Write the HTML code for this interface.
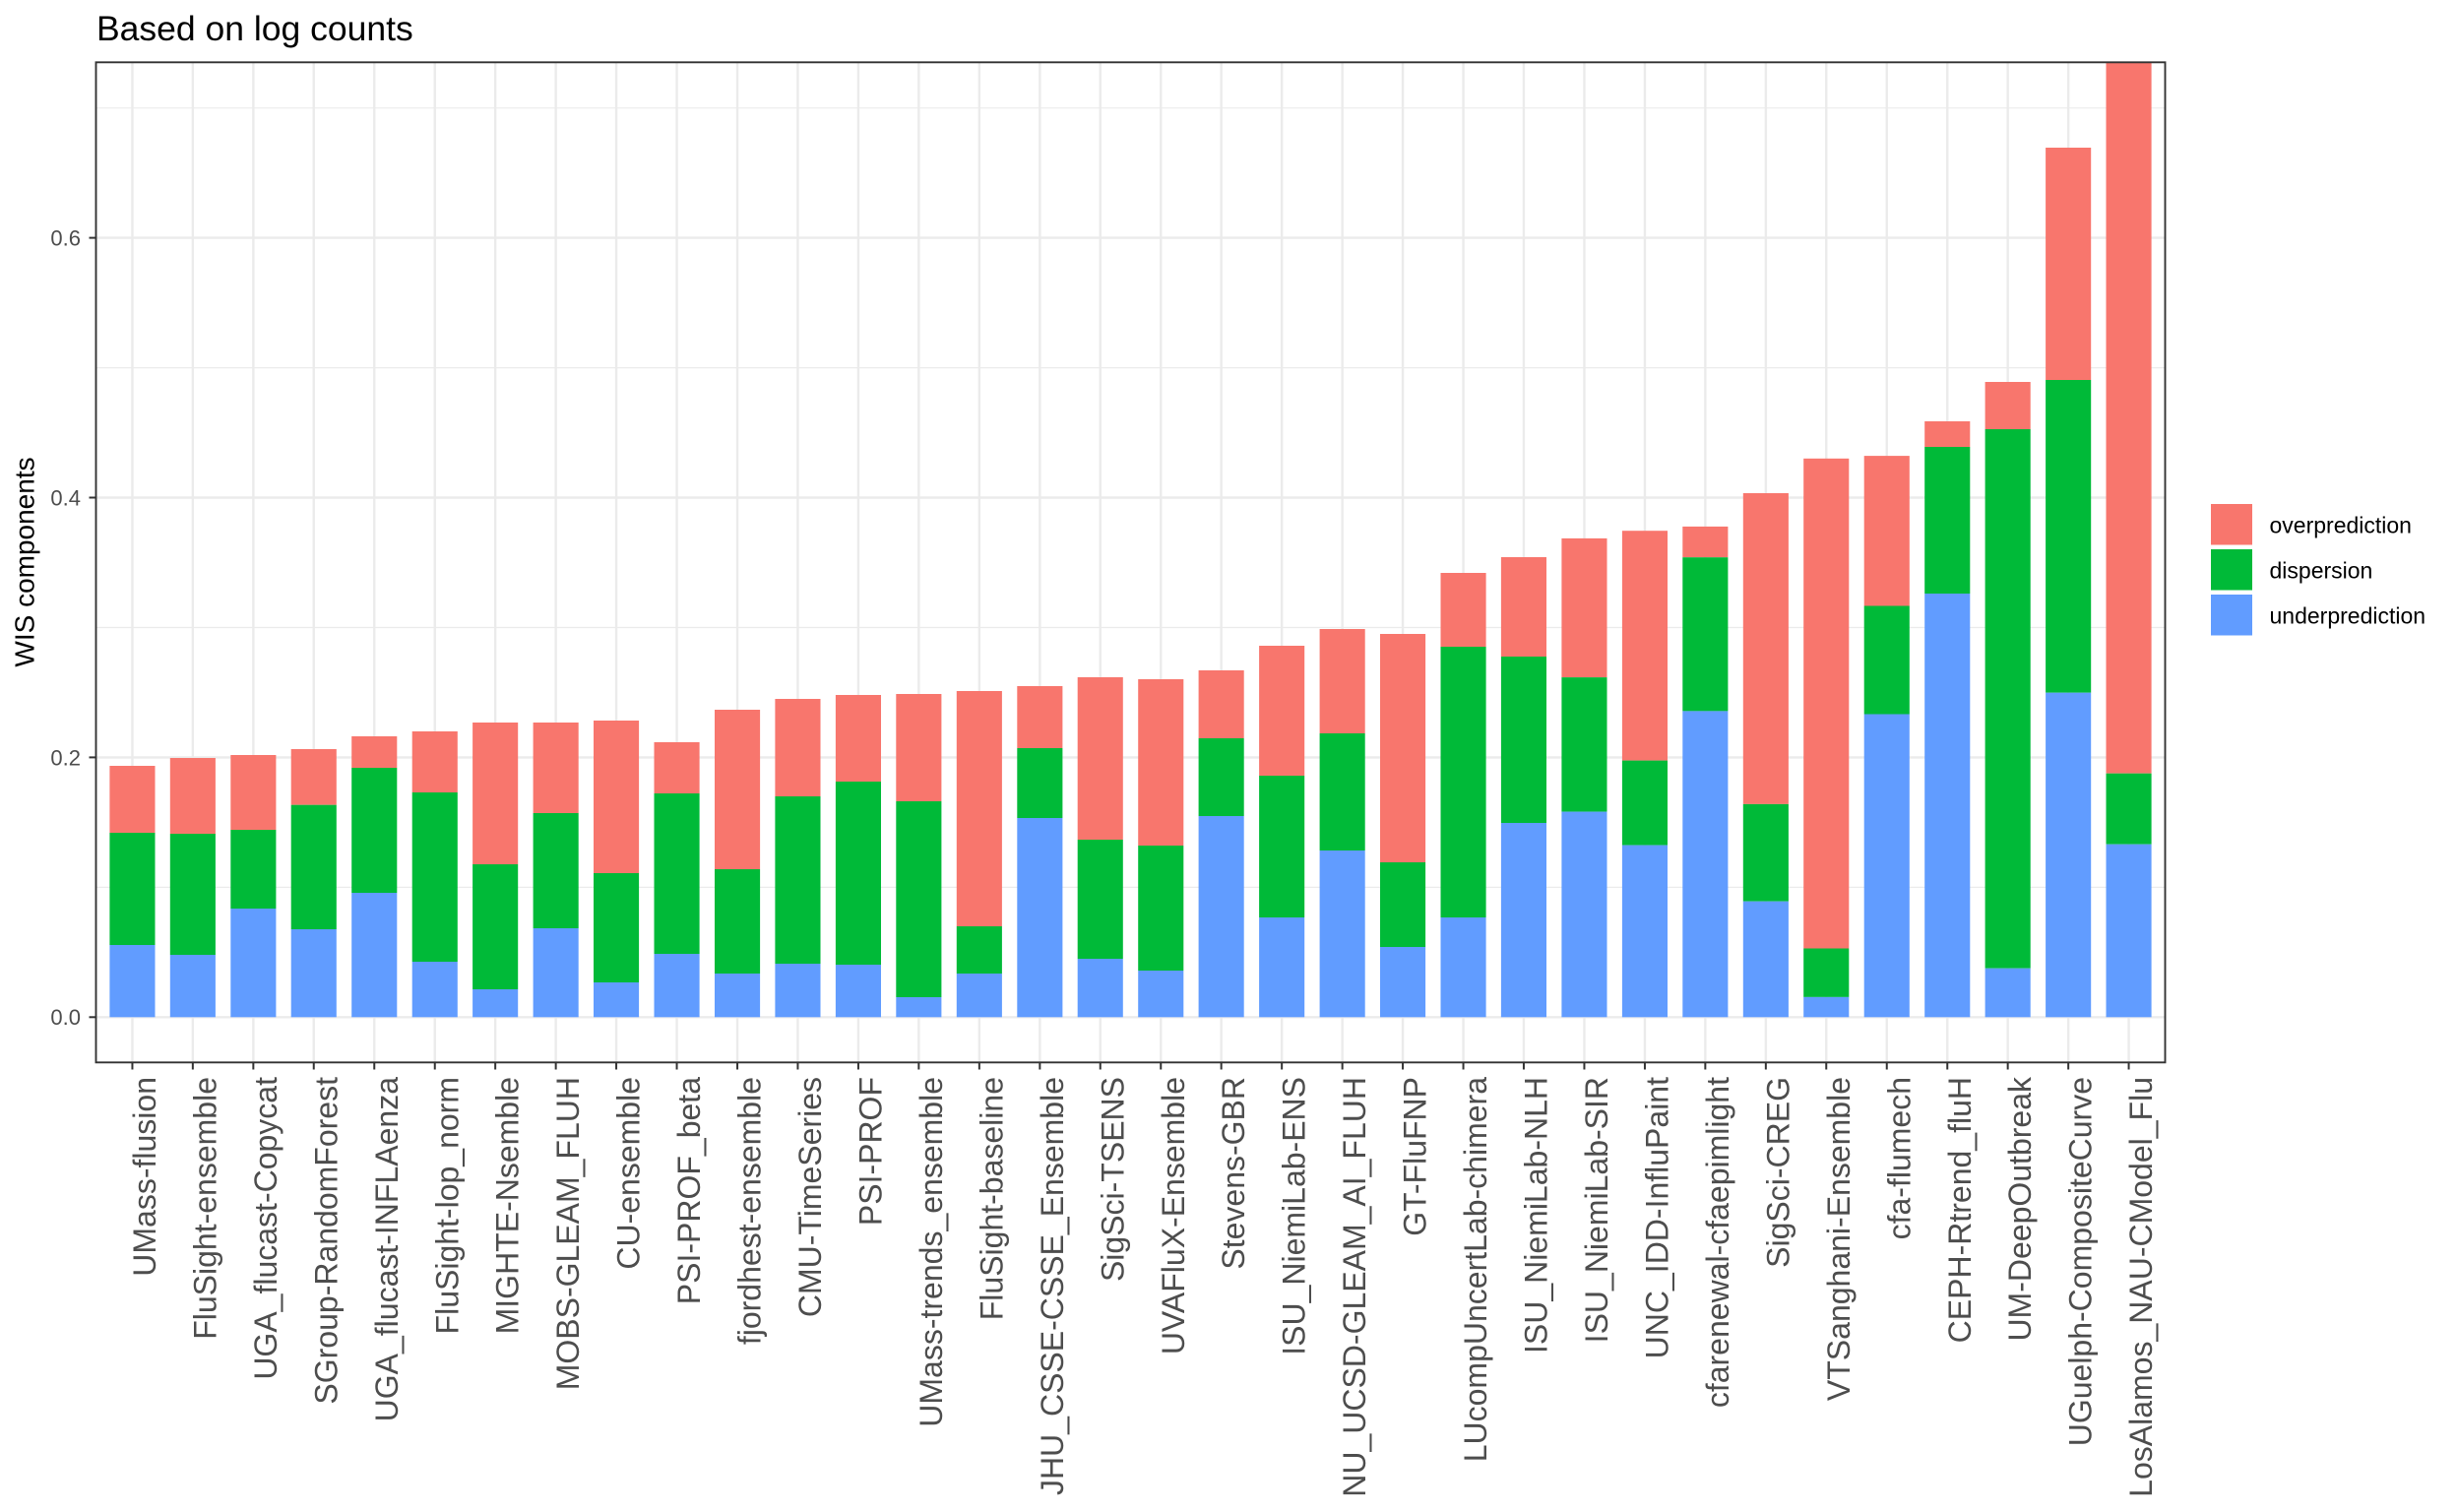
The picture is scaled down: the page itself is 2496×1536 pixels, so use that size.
<!DOCTYPE html>
<html>
<head>
<meta charset="utf-8">
<style>
html,body{margin:0;padding:0;background:#fff;}
svg{display:block;}
text{font-family:"Liberation Sans",Arial,sans-serif;}
</style>
</head>
<body>
<svg width="2496" height="1536" viewBox="0 0 2496 1536" xmlns="http://www.w3.org/2000/svg">
<rect x="0" y="0" width="2496" height="1536" fill="#fff"/>
<!-- title -->
<text x="98" y="41" font-size="35.5" fill="#000">Based on log counts</text>

<!-- grid: horizontal minor -->
<g stroke="#EBEBEB" stroke-width="1.2">
<line x1="97.5" x2="2199.5" y1="901.4" y2="901.4"/>
<line x1="97.5" x2="2199.5" y1="637.5" y2="637.5"/>
<line x1="97.5" x2="2199.5" y1="373.6" y2="373.6"/>
<line x1="97.5" x2="2199.5" y1="109.7" y2="109.7"/>
</g>
<!-- grid: horizontal major -->
<g stroke="#EBEBEB" stroke-width="2.4">
<line x1="97.5" x2="2199.5" y1="1033.3" y2="1033.3"/>
<line x1="97.5" x2="2199.5" y1="769.4" y2="769.4"/>
<line x1="97.5" x2="2199.5" y1="505.5" y2="505.5"/>
<line x1="97.5" x2="2199.5" y1="241.6" y2="241.6"/>
</g>
<!-- grid: vertical major -->
<g stroke="#EBEBEB" stroke-width="2.4">
<line x1="134.45" x2="134.45" y1="63.3" y2="1079.3"/>
<line x1="195.85" x2="195.85" y1="63.3" y2="1079.3"/>
<line x1="257.35" x2="257.35" y1="63.3" y2="1079.3"/>
<line x1="318.75" x2="318.75" y1="63.3" y2="1079.3"/>
<line x1="380.25" x2="380.25" y1="63.3" y2="1079.3"/>
<line x1="441.75" x2="441.75" y1="63.3" y2="1079.3"/>
<line x1="503.15" x2="503.15" y1="63.3" y2="1079.3"/>
<line x1="564.65" x2="564.65" y1="63.3" y2="1079.3"/>
<line x1="626.05" x2="626.05" y1="63.3" y2="1079.3"/>
<line x1="687.55" x2="687.55" y1="63.3" y2="1079.3"/>
<line x1="749.05" x2="749.05" y1="63.3" y2="1079.3"/>
<line x1="810.45" x2="810.45" y1="63.3" y2="1079.3"/>
<line x1="871.95" x2="871.95" y1="63.3" y2="1079.3"/>
<line x1="933.35" x2="933.35" y1="63.3" y2="1079.3"/>
<line x1="994.85" x2="994.85" y1="63.3" y2="1079.3"/>
<line x1="1056.35" x2="1056.35" y1="63.3" y2="1079.3"/>
<line x1="1117.75" x2="1117.75" y1="63.3" y2="1079.3"/>
<line x1="1179.25" x2="1179.25" y1="63.3" y2="1079.3"/>
<line x1="1240.65" x2="1240.65" y1="63.3" y2="1079.3"/>
<line x1="1302.15" x2="1302.15" y1="63.3" y2="1079.3"/>
<line x1="1363.65" x2="1363.65" y1="63.3" y2="1079.3"/>
<line x1="1425.05" x2="1425.05" y1="63.3" y2="1079.3"/>
<line x1="1486.55" x2="1486.55" y1="63.3" y2="1079.3"/>
<line x1="1547.95" x2="1547.95" y1="63.3" y2="1079.3"/>
<line x1="1609.45" x2="1609.45" y1="63.3" y2="1079.3"/>
<line x1="1670.95" x2="1670.95" y1="63.3" y2="1079.3"/>
<line x1="1732.35" x2="1732.35" y1="63.3" y2="1079.3"/>
<line x1="1793.85" x2="1793.85" y1="63.3" y2="1079.3"/>
<line x1="1855.25" x2="1855.25" y1="63.3" y2="1079.3"/>
<line x1="1916.75" x2="1916.75" y1="63.3" y2="1079.3"/>
<line x1="1978.25" x2="1978.25" y1="63.3" y2="1079.3"/>
<line x1="2039.65" x2="2039.65" y1="63.3" y2="1079.3"/>
<line x1="2101.15" x2="2101.15" y1="63.3" y2="1079.3"/>
<line x1="2162.55" x2="2162.55" y1="63.3" y2="1079.3"/>
</g>

<!-- bars: overprediction -->
<g fill="#F8766D">
<rect x="111.4" y="778" width="46.1" height="68"/>
<rect x="172.8" y="770" width="46.1" height="77"/>
<rect x="234.3" y="767" width="46.1" height="76"/>
<rect x="295.7" y="761" width="46.1" height="56.7"/>
<rect x="357.2" y="748" width="46.1" height="32"/>
<rect x="418.7" y="743" width="46.1" height="62"/>
<rect x="480.1" y="734" width="46.1" height="144"/>
<rect x="541.6" y="734" width="46.1" height="92"/>
<rect x="603.0" y="732" width="46.1" height="155"/>
<rect x="664.5" y="754" width="46.1" height="52"/>
<rect x="726.0" y="721" width="46.1" height="162"/>
<rect x="787.4" y="710" width="46.1" height="99"/>
<rect x="848.9" y="706" width="46.1" height="88"/>
<rect x="910.3" y="705" width="46.1" height="109"/>
<rect x="971.8" y="702" width="46.1" height="239"/>
<rect x="1033.3" y="697" width="46.1" height="63"/>
<rect x="1094.7" y="688" width="46.1" height="165"/>
<rect x="1156.2" y="690" width="46.1" height="169"/>
<rect x="1217.6" y="681" width="46.1" height="69"/>
<rect x="1279.1" y="656" width="46.1" height="132"/>
<rect x="1340.6" y="639" width="46.1" height="106"/>
<rect x="1402.0" y="644" width="46.1" height="232"/>
<rect x="1463.5" y="582" width="46.1" height="75"/>
<rect x="1524.9" y="566" width="46.1" height="101"/>
<rect x="1586.4" y="546.9" width="46.1" height="141.2"/>
<rect x="1647.9" y="539.2" width="46.1" height="233.4"/>
<rect x="1709.3" y="534.9" width="46.1" height="31.3"/>
<rect x="1770.8" y="501" width="46.1" height="315.9"/>
<rect x="1832.2" y="465.8" width="46.1" height="497.7"/>
<rect x="1893.7" y="463.1" width="46.1" height="152.4"/>
<rect x="1955.2" y="428" width="46.1" height="26"/>
<rect x="2016.6" y="388" width="46.1" height="48"/>
<rect x="2078.1" y="150" width="46.1" height="236"/>
<rect x="2139.5" y="63.3" width="46.1" height="722.4"/>
</g>
<!-- bars: dispersion -->
<g fill="#00BA38">
<rect x="111.4" y="846" width="46.1" height="114"/>
<rect x="172.8" y="847" width="46.1" height="123"/>
<rect x="234.3" y="843" width="46.1" height="80"/>
<rect x="295.7" y="817.7" width="46.1" height="126.3"/>
<rect x="357.2" y="780" width="46.1" height="127"/>
<rect x="418.7" y="805" width="46.1" height="172"/>
<rect x="480.1" y="878" width="46.1" height="127"/>
<rect x="541.6" y="826" width="46.1" height="117"/>
<rect x="603.0" y="887" width="46.1" height="111"/>
<rect x="664.5" y="806" width="46.1" height="163"/>
<rect x="726.0" y="883" width="46.1" height="106"/>
<rect x="787.4" y="809" width="46.1" height="170"/>
<rect x="848.9" y="794" width="46.1" height="186"/>
<rect x="910.3" y="814" width="46.1" height="199"/>
<rect x="971.8" y="941" width="46.1" height="48"/>
<rect x="1033.3" y="760" width="46.1" height="71"/>
<rect x="1094.7" y="853" width="46.1" height="121"/>
<rect x="1156.2" y="859" width="46.1" height="127"/>
<rect x="1217.6" y="750" width="46.1" height="79"/>
<rect x="1279.1" y="788" width="46.1" height="144"/>
<rect x="1340.6" y="745" width="46.1" height="119"/>
<rect x="1402.0" y="876" width="46.1" height="86"/>
<rect x="1463.5" y="657" width="46.1" height="275"/>
<rect x="1524.9" y="667" width="46.1" height="169"/>
<rect x="1586.4" y="688.1" width="46.1" height="136.5"/>
<rect x="1647.9" y="772.6" width="46.1" height="86"/>
<rect x="1709.3" y="566.2" width="46.1" height="156.2"/>
<rect x="1770.8" y="816.9" width="46.1" height="98.8"/>
<rect x="1832.2" y="963.5" width="46.1" height="49.4"/>
<rect x="1893.7" y="615.5" width="46.1" height="110"/>
<rect x="1955.2" y="454" width="46.1" height="149"/>
<rect x="2016.6" y="436" width="46.1" height="547.7"/>
<rect x="2078.1" y="386" width="46.1" height="317.7"/>
<rect x="2139.5" y="785.7" width="46.1" height="72"/>
</g>
<!-- bars: underprediction -->
<g fill="#619CFF">
<rect x="111.4" y="960" width="46.1" height="73.3"/>
<rect x="172.8" y="970" width="46.1" height="63.3"/>
<rect x="234.3" y="923" width="46.1" height="110.3"/>
<rect x="295.7" y="944" width="46.1" height="89.3"/>
<rect x="357.2" y="907" width="46.1" height="126.3"/>
<rect x="418.7" y="977" width="46.1" height="56.3"/>
<rect x="480.1" y="1005" width="46.1" height="28.3"/>
<rect x="541.6" y="943" width="46.1" height="90.3"/>
<rect x="603.0" y="998" width="46.1" height="35.3"/>
<rect x="664.5" y="969" width="46.1" height="64.3"/>
<rect x="726.0" y="989" width="46.1" height="44.3"/>
<rect x="787.4" y="979" width="46.1" height="54.3"/>
<rect x="848.9" y="980" width="46.1" height="53.3"/>
<rect x="910.3" y="1013" width="46.1" height="20.3"/>
<rect x="971.8" y="989" width="46.1" height="44.3"/>
<rect x="1033.3" y="831" width="46.1" height="202.3"/>
<rect x="1094.7" y="974" width="46.1" height="59.3"/>
<rect x="1156.2" y="986" width="46.1" height="47.3"/>
<rect x="1217.6" y="829" width="46.1" height="204.3"/>
<rect x="1279.1" y="932" width="46.1" height="101.3"/>
<rect x="1340.6" y="864" width="46.1" height="169.3"/>
<rect x="1402.0" y="962" width="46.1" height="71.3"/>
<rect x="1463.5" y="932" width="46.1" height="101.3"/>
<rect x="1524.9" y="836" width="46.1" height="197.3"/>
<rect x="1586.4" y="824.6" width="46.1" height="208.7"/>
<rect x="1647.9" y="858.6" width="46.1" height="174.7"/>
<rect x="1709.3" y="722.4" width="46.1" height="310.9"/>
<rect x="1770.8" y="915.7" width="46.1" height="117.6"/>
<rect x="1832.2" y="1012.9" width="46.1" height="20.4"/>
<rect x="1893.7" y="725.5" width="46.1" height="307.8"/>
<rect x="1955.2" y="603" width="46.1" height="430.3"/>
<rect x="2016.6" y="983.7" width="46.1" height="49.6"/>
<rect x="2078.1" y="703.7" width="46.1" height="329.6"/>
<rect x="2139.5" y="857.7" width="46.1" height="175.6"/>
</g>

<!-- panel border -->
<rect x="97.5" y="63.3" width="2102" height="1016" fill="none" stroke="#333333" stroke-width="1.9"/>

<!-- y ticks -->
<g stroke="#333333" stroke-width="2">
<line x1="90.5" x2="97.5" y1="1033.3" y2="1033.3"/>
<line x1="90.5" x2="97.5" y1="769.4" y2="769.4"/>
<line x1="90.5" x2="97.5" y1="505.5" y2="505.5"/>
<line x1="90.5" x2="97.5" y1="241.6" y2="241.6"/>
</g>
<g font-size="22" fill="#4D4D4D" text-anchor="end">
<text x="82" y="1041.2">0.0</text>
<text x="82" y="777.3">0.2</text>
<text x="82" y="513.4">0.4</text>
<text x="82" y="249.5">0.6</text>
</g>
<!-- y axis title -->
<text transform="translate(34.5,571) rotate(-90)" text-anchor="middle" font-size="28" fill="#000">WIS components</text>

<!-- x ticks -->
<g stroke="#333333" stroke-width="2">
<line x1="134.45" x2="134.45" y1="1079.3" y2="1086.5"/>
<line x1="195.85" x2="195.85" y1="1079.3" y2="1086.5"/>
<line x1="257.35" x2="257.35" y1="1079.3" y2="1086.5"/>
<line x1="318.75" x2="318.75" y1="1079.3" y2="1086.5"/>
<line x1="380.25" x2="380.25" y1="1079.3" y2="1086.5"/>
<line x1="441.75" x2="441.75" y1="1079.3" y2="1086.5"/>
<line x1="503.15" x2="503.15" y1="1079.3" y2="1086.5"/>
<line x1="564.65" x2="564.65" y1="1079.3" y2="1086.5"/>
<line x1="626.05" x2="626.05" y1="1079.3" y2="1086.5"/>
<line x1="687.55" x2="687.55" y1="1079.3" y2="1086.5"/>
<line x1="749.05" x2="749.05" y1="1079.3" y2="1086.5"/>
<line x1="810.45" x2="810.45" y1="1079.3" y2="1086.5"/>
<line x1="871.95" x2="871.95" y1="1079.3" y2="1086.5"/>
<line x1="933.35" x2="933.35" y1="1079.3" y2="1086.5"/>
<line x1="994.85" x2="994.85" y1="1079.3" y2="1086.5"/>
<line x1="1056.35" x2="1056.35" y1="1079.3" y2="1086.5"/>
<line x1="1117.75" x2="1117.75" y1="1079.3" y2="1086.5"/>
<line x1="1179.25" x2="1179.25" y1="1079.3" y2="1086.5"/>
<line x1="1240.65" x2="1240.65" y1="1079.3" y2="1086.5"/>
<line x1="1302.15" x2="1302.15" y1="1079.3" y2="1086.5"/>
<line x1="1363.65" x2="1363.65" y1="1079.3" y2="1086.5"/>
<line x1="1425.05" x2="1425.05" y1="1079.3" y2="1086.5"/>
<line x1="1486.55" x2="1486.55" y1="1079.3" y2="1086.5"/>
<line x1="1547.95" x2="1547.95" y1="1079.3" y2="1086.5"/>
<line x1="1609.45" x2="1609.45" y1="1079.3" y2="1086.5"/>
<line x1="1670.95" x2="1670.95" y1="1079.3" y2="1086.5"/>
<line x1="1732.35" x2="1732.35" y1="1079.3" y2="1086.5"/>
<line x1="1793.85" x2="1793.85" y1="1079.3" y2="1086.5"/>
<line x1="1855.25" x2="1855.25" y1="1079.3" y2="1086.5"/>
<line x1="1916.75" x2="1916.75" y1="1079.3" y2="1086.5"/>
<line x1="1978.25" x2="1978.25" y1="1079.3" y2="1086.5"/>
<line x1="2039.65" x2="2039.65" y1="1079.3" y2="1086.5"/>
<line x1="2101.15" x2="2101.15" y1="1079.3" y2="1086.5"/>
<line x1="2162.55" x2="2162.55" y1="1079.3" y2="1086.5"/>
</g>

<!-- x labels -->
<g font-size="32" fill="#4D4D4D" text-anchor="end">
<text transform="translate(157.95,1094) rotate(-90)">UMass-flusion</text>
<text transform="translate(219.35,1094) rotate(-90)">FluSight-ensemble</text>
<text transform="translate(280.85,1094) rotate(-90)">UGA_flucast-Copycat</text>
<text transform="translate(342.25,1094) rotate(-90)">SGroup-RandomForest</text>
<text transform="translate(403.75,1094) rotate(-90)">UGA_flucast-INFLAenza</text>
<text transform="translate(465.25,1094) rotate(-90)">FluSight-lop_norm</text>
<text transform="translate(526.65,1094) rotate(-90)">MIGHTE-Nsemble</text>
<text transform="translate(588.15,1094) rotate(-90)">MOBS-GLEAM_FLUH</text>
<text transform="translate(649.55,1094) rotate(-90)">CU-ensemble</text>
<text transform="translate(711.05,1094) rotate(-90)">PSI-PROF_beta</text>
<text transform="translate(772.55,1094) rotate(-90)">fjordhest-ensemble</text>
<text transform="translate(833.95,1094) rotate(-90)">CMU-TimeSeries</text>
<text transform="translate(895.45,1094) rotate(-90)">PSI-PROF</text>
<text transform="translate(956.85,1094) rotate(-90)">UMass-trends_ensemble</text>
<text transform="translate(1018.35,1094) rotate(-90)">FluSight-baseline</text>
<text transform="translate(1079.85,1094) rotate(-90)">JHU_CSSE-CSSE_Ensemble</text>
<text transform="translate(1141.25,1094) rotate(-90)">SigSci-TSENS</text>
<text transform="translate(1202.75,1094) rotate(-90)">UVAFluX-Ensemble</text>
<text transform="translate(1264.15,1094) rotate(-90)">Stevens-GBR</text>
<text transform="translate(1325.65,1094) rotate(-90)">ISU_NiemiLab-ENS</text>
<text transform="translate(1387.15,1094) rotate(-90)">NU_UCSD-GLEAM_AI_FLUH</text>
<text transform="translate(1448.55,1094) rotate(-90)">GT-FluFNP</text>
<text transform="translate(1510.05,1094) rotate(-90)">LUcompUncertLab-chimera</text>
<text transform="translate(1571.45,1094) rotate(-90)">ISU_NiemiLab-NLH</text>
<text transform="translate(1632.95,1094) rotate(-90)">ISU_NiemiLab-SIR</text>
<text transform="translate(1694.45,1094) rotate(-90)">UNC_IDD-InfluPaint</text>
<text transform="translate(1755.85,1094) rotate(-90)">cfarenewal-cfaepimlight</text>
<text transform="translate(1817.35,1094) rotate(-90)">SigSci-CREG</text>
<text transform="translate(1878.75,1094) rotate(-90)">VTSanghani-Ensemble</text>
<text transform="translate(1940.25,1094) rotate(-90)">cfa-flumech</text>
<text transform="translate(2001.75,1094) rotate(-90)">CEPH-Rtrend_fluH</text>
<text transform="translate(2063.15,1094) rotate(-90)">UM-DeepOutbreak</text>
<text transform="translate(2124.65,1094) rotate(-90)">UGuelph-CompositeCurve</text>
<text transform="translate(2186.05,1094) rotate(-90)">LosAlamos_NAU-CModel_Flu</text>
</g>

<!-- legend -->
<rect x="2246" y="512" width="42" height="41.5" fill="#F8766D"/>
<rect x="2246" y="558" width="42" height="41.5" fill="#00BA38"/>
<rect x="2246" y="604" width="42" height="41.5" fill="#619CFF"/>
<g font-size="23" fill="#000">
<text x="2305.5" y="541.5">overprediction</text>
<text x="2305.5" y="587.5">dispersion</text>
<text x="2305.5" y="633.5">underprediction</text>
</g>
</svg>
</body>
</html>
